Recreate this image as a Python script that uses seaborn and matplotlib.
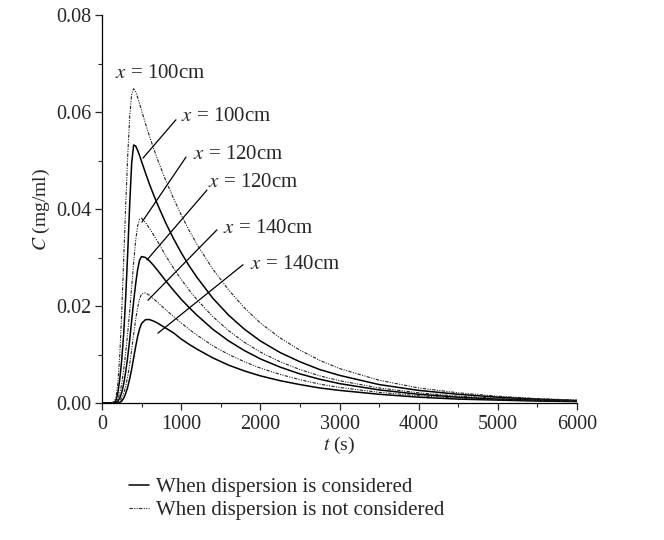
import numpy as np
import pandas as pd
import matplotlib
matplotlib.use("Agg")
import matplotlib.pyplot as plt
from matplotlib.lines import Line2D
from matplotlib.ticker import MultipleLocator, FormatStrFormatter
import seaborn as sns

# time grid (s)
t = [0, 100, 150, 175, 200, 225, 250, 275, 300, 325, 350, 375, 400, 425, 450, 475, 500,
     550, 600, 650, 700, 800, 900, 1000, 1100, 1200, 1400, 1600, 1800, 2000, 2250, 2500,
     2750, 3000, 3500, 4000, 4500, 5000, 5500, 6000]

# concentration (mg/ml), dispersion not considered
nd_100 = [0, 0, 0.0002, 0.001, 0.004, 0.010, 0.019, 0.030, 0.041, 0.051, 0.0590, 0.0638,
          0.0648, 0.0642, 0.0630, 0.0617, 0.0603, 0.0576, 0.0550, 0.0526, 0.0503, 0.0461,
          0.0423, 0.0388, 0.0356, 0.0327, 0.0276, 0.0233, 0.0196, 0.0165, 0.0134, 0.0109,
          0.0088, 0.0071, 0.0047, 0.0031, 0.0021, 0.0014, 0.0009, 0.0006]
nd_120 = [0, 0, 0, 0.0002, 0.0008, 0.002, 0.004, 0.007, 0.0105, 0.0145, 0.019, 0.024,
          0.029, 0.0335, 0.0365, 0.0379, 0.0381, 0.0372, 0.0360, 0.0347, 0.0334, 0.0305,
          0.0279, 0.0255, 0.0233, 0.0213, 0.0178, 0.0149, 0.0125, 0.0105, 0.0085, 0.0069,
          0.0056, 0.0046, 0.0031, 0.0021, 0.0014, 0.0010, 0.0007, 0.0005]
nd_140 = [0, 0, 0, 0, 0.0001, 0.0004, 0.001, 0.002, 0.0035, 0.0055, 0.008, 0.011,
          0.0142, 0.0172, 0.0197, 0.0215, 0.0225, 0.0227, 0.0222, 0.0215, 0.0208, 0.0193,
          0.0179, 0.0165, 0.0152, 0.0140, 0.0118, 0.0100, 0.0085, 0.0072, 0.0059, 0.0048,
          0.0039, 0.0032, 0.0022, 0.0015, 0.0010, 0.0007, 0.0005, 0.0003]

# concentration (mg/ml), dispersion considered
d_100 = [0, 0, 0.0001, 0.0005, 0.002, 0.005, 0.009, 0.0145, 0.022, 0.031, 0.041, 0.0495,
         0.0532, 0.0530, 0.0521, 0.0510, 0.0498, 0.0474, 0.0451, 0.0430, 0.0410, 0.0373,
         0.0340, 0.0310, 0.0283, 0.0259, 0.0216, 0.0181, 0.0152, 0.0128, 0.0104, 0.0085,
         0.0069, 0.0057, 0.0038, 0.0026, 0.0018, 0.0012, 0.0008, 0.0005]
d_120 = [0, 0, 0, 0.0001, 0.0004, 0.001, 0.0022, 0.004, 0.0065, 0.0095, 0.013, 0.017,
         0.021, 0.0245, 0.0275, 0.0295, 0.0302, 0.0300, 0.0293, 0.0284, 0.0274, 0.0253,
         0.0233, 0.0214, 0.0197, 0.0181, 0.0152, 0.0128, 0.0108, 0.0091, 0.0074, 0.0060,
         0.0049, 0.0040, 0.0027, 0.0018, 0.0012, 0.0008, 0.0006, 0.0004]
d_140 = [0, 0, 0, 0, 0, 0.0001, 0.0004, 0.001, 0.002, 0.0033, 0.005, 0.007,
         0.0093, 0.0116, 0.0137, 0.0153, 0.0164, 0.0172, 0.0172, 0.0169, 0.0165, 0.0155,
         0.0145, 0.0132, 0.0121, 0.0111, 0.0093, 0.0078, 0.0066, 0.0056, 0.0046, 0.0038,
         0.0031, 0.0026, 0.0018, 0.0012, 0.0008, 0.0006, 0.0004, 0.0003]

# label text, text anchor (t, C) and leader line ends (t, C)
labels = ["100", "100", "120", "120", "140", "140"]
label_pos = [(164, 0.068), (997, 0.059), (1149, 0.0513), (1338, 0.0454), (1528, 0.0359), (1869, 0.0285)]
leader_start = [None, (934, 0.0584), (1061, 0.0507), (1326, 0.0439), (1452, 0.0357), (1780, 0.0285)]
leader_end = [None, (518, 0.0505), (505, 0.0373), (568, 0.0295), (581, 0.0212), (707, 0.0144)]

sns.set_style("ticks")
plt.rcParams["font.family"] = ["Liberation Serif", "DejaVu Serif"]
plt.rcParams["mathtext.fontset"] = "stix"

fig = plt.figure(figsize=(6.64, 5.40), dpi=100)
ax = fig.add_axes([0.1536, 0.2537, 0.7154, 0.7185])

# dash-dot-dot, drawn fine so it reads as a light dotted curve
dashdot = (0, (3, 1.2, 1, 1.2, 1, 1.2))
for vals in [d_100, d_120, d_140]:
    sns.lineplot(x=t, y=vals, ax=ax, color="black", linewidth=1.1)
for vals in [nd_100, nd_120, nd_140]:
    sns.lineplot(x=t, y=vals, ax=ax, color="#222222", linewidth=0.8, linestyle=dashdot)

for lab, pos, s, e in zip(labels, label_pos, leader_start, leader_end):
    ax.text(pos[0], pos[1], "$x$ = " + lab + "cm", fontsize=15, ha="left", va="center")
    if s is not None:
        ax.plot([s[0], e[0]], [s[1], e[1]], color="black", linewidth=0.9)

ax.set_xlim(0, 6000)
ax.set_ylim(0, 0.08)
ax.xaxis.set_major_locator(MultipleLocator(1000))
ax.xaxis.set_minor_locator(MultipleLocator(500))
ax.yaxis.set_major_locator(MultipleLocator(0.02))
ax.yaxis.set_minor_locator(MultipleLocator(0.01))
ax.yaxis.set_major_formatter(FormatStrFormatter("%.2f"))
ax.tick_params(which="major", length=5, width=0.9, labelsize=14.5, direction="out")
ax.tick_params(axis="y", which="major", pad=2.5)
ax.tick_params(which="minor", length=3, width=0.8, direction="out")
sns.despine(ax=ax)
for sp in ["left", "bottom"]:
    ax.spines[sp].set_linewidth(0.9)
    ax.spines[sp].set_color("black")

ax.set_xlabel("$t$ (s)", fontsize=14, labelpad=1)
ax.set_ylabel("$C$ (mg/ml)", fontsize=14, labelpad=3)

handles = [Line2D([], [], color="black", linewidth=1.1),
           Line2D([], [], color="#222222", linewidth=0.8, linestyle=dashdot)]
fig.legend(handles, ["When dispersion is considered", "When dispersion is not considered"],
           loc="upper left", bbox_to_anchor=(0.181, 0.131), frameon=False, fontsize=15,
           handlelength=1.0, handletextpad=0.3, labelspacing=0.15, borderaxespad=0)

fig.savefig("out.png", dpi=100)
